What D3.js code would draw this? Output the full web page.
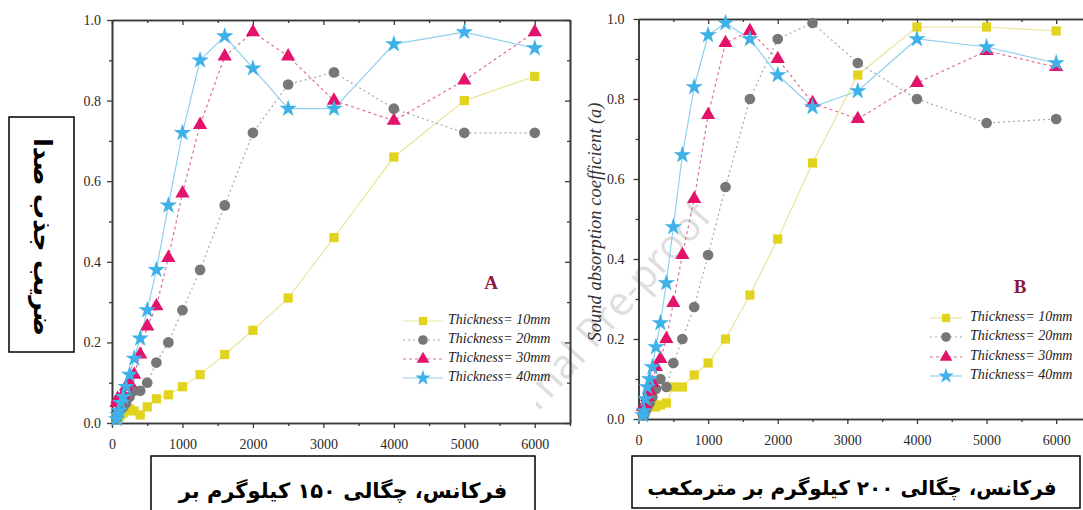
<!DOCTYPE html>
<html>
<head>
<meta charset="utf-8">
<script src="https://cdn.jsdelivr.net/npm/d3@7/dist/d3.min.js"></script>
<style>
  html, body { margin: 0; padding: 0; background: #fff; }
  svg { display: block; }
</style>
</head>
<body>
<script>
// ---------------- DATA ----------------
const freqs = [63, 80, 100, 125, 160, 200, 250, 315, 400, 500, 630, 800, 1000, 1250, 1600, 2000, 2500, 3150, 4000, 5000, 6000];
const seriesLabels = ["Thickness= 10mm", "Thickness= 20mm", "Thickness= 30mm", "Thickness= 40mm"];
const xMajorTicks = [0, 1000, 2000, 3000, 4000, 5000, 6000];
const xMinorTicks = [500, 1500, 2500, 3500, 4500, 5500, 6500];
const yMajorTicks = [0, 0.2, 0.4, 0.6, 0.8, 1.0];
const yMinorTicks = [0.1, 0.3, 0.5, 0.7, 0.9];

// Panel A (150 kg/m3)
const a10 = [0.01, 0.01, 0.015, 0.02, 0.025, 0.03, 0.035, 0.03, 0.02, 0.04, 0.06, 0.07, 0.09, 0.12, 0.17, 0.23, 0.31, 0.46, 0.66, 0.80, 0.86];
const a20 = [0.01, 0.02, 0.03, 0.04, 0.04, 0.05, 0.065, 0.08, 0.08, 0.10, 0.15, 0.20, 0.28, 0.38, 0.54, 0.72, 0.84, 0.87, 0.78, 0.72, 0.72];
const a30 = [0.05, 0.06, 0.05, 0.06, 0.07, 0.09, 0.10, 0.12, 0.17, 0.24, 0.29, 0.41, 0.57, 0.74, 0.91, 0.97, 0.91, 0.80, 0.75, 0.85, 0.97];
const a40 = [0.01, 0.02, 0.03, 0.05, 0.065, 0.09, 0.12, 0.16, 0.21, 0.28, 0.38, 0.54, 0.72, 0.90, 0.96, 0.88, 0.78, 0.78, 0.94, 0.97, 0.93];

// Panel B (200 kg/m3)
const b10 = [0.01, 0.015, 0.02, 0.03, 0.04, 0.04, 0.03, 0.035, 0.04, 0.08, 0.08, 0.11, 0.14, 0.20, 0.31, 0.45, 0.64, 0.86, 0.98, 0.98, 0.97];
const b20 = [0.01, 0.01, 0.02, 0.03, 0.04, 0.055, 0.075, 0.10, 0.08, 0.14, 0.20, 0.28, 0.41, 0.58, 0.80, 0.95, 0.99, 0.89, 0.80, 0.74, 0.75];
const b30 = [0.03, 0.03, 0.035, 0.055, 0.07, 0.09, 0.13, 0.15, 0.20, 0.29, 0.41, 0.55, 0.76, 0.94, 0.97, 0.90, 0.79, 0.75, 0.84, 0.92, 0.88];
const b40 = [0.01, 0.02, 0.05, 0.08, 0.10, 0.13, 0.18, 0.24, 0.34, 0.48, 0.66, 0.83, 0.96, 0.99, 0.95, 0.86, 0.78, 0.82, 0.95, 0.93, 0.89];

const yLabelFa = "ضریب جذب صدا";
const xLabelA = "فرکانس، چگالی ۱۵۰ کیلوگرم بر";
const xLabelB = "فرکانس، چگالی ۲۰۰ کیلوگرم بر مترمکعب";
const yLabelB = "Sound absorption coefficient (a)";
const watermark = "Journal Pre-proof";

// ---------------- STYLES ----------------
const styles = [
  { sym: d3.symbolSquare,   size: 85,  fill: "#e2d31e", line: "#ebe49a", dash: null,  lw: 1.2 },
  { sym: d3.symbolCircle,   size: 90,  fill: "#777777", line: "#a8a8a8", dash: "2,3", lw: 1.2 },
  { sym: d3.symbolTriangle, size: 88,  fill: "#e3136c", line: "#df6f98", dash: "3,3", lw: 1.2 },
  { sym: d3.symbolStar,     size: 95,  fill: "#3eb2e8", line: "#8fd0ef", dash: null,  lw: 1.2 }
];

const W = 1083, H = 510;
const svg = d3.select("body").append("svg").attr("width", W).attr("height", H)
  .style("font-family", "'Liberation Serif', 'DejaVu Serif', serif");

// watermark (clipped to right figure)
svg.append("clipPath").attr("id", "wmclip").append("rect")
  .attr("x", 536).attr("y", 0).attr("width", W).attr("height", 455);
svg.append("g").attr("clip-path", "url(#wmclip)")
  .append("text")
  .attr("transform", "translate(598,330) rotate(-48)")
  .attr("text-anchor", "middle")
  .attr("dominant-baseline", "middle")
  .style("font-family", "'Open Sans', 'DejaVu Sans', sans-serif")
  .style("font-size", "40px")
  .attr("fill", "#dedede")
  .text(watermark);

function panel(cfg) {
  const x = d3.scaleLinear().domain([0, 6500]).range([cfg.x0, cfg.x1]);
  const y = d3.scaleLinear().domain([0, 1]).range([cfg.y0, cfg.y1]);
  const g = svg.append("g");

  const axisStyle = sel => {
    sel.select(".domain").attr("stroke", "#3a3a3a").attr("stroke-width", 1.6);
    sel.selectAll(".tick line").attr("stroke", "#3a3a3a").attr("stroke-width", 1.3);
    sel.selectAll(".tick text").attr("fill", "#2a2a2a").style("font-size", "14px")
      .style("font-family", "'Liberation Serif', 'DejaVu Serif', serif");
  };

  // bottom
  g.append("g").attr("transform", `translate(0,${cfg.y0})`)
    .call(d3.axisBottom(x).tickValues(xMinorTicks).tickSize(3).tickSizeOuter(0).tickFormat(""))
    .call(axisStyle);
  g.append("g").attr("transform", `translate(0,${cfg.y0})`)
    .call(d3.axisBottom(x).tickValues(xMajorTicks).tickSize(5).tickSizeOuter(0).tickPadding(11).tickFormat(d3.format("d")))
    .call(axisStyle);
  // top (inward)
  g.append("g").attr("transform", `translate(0,${cfg.y1})`)
    .call(d3.axisBottom(x).tickValues(xMinorTicks).tickSize(3).tickSizeOuter(0).tickFormat(""))
    .call(axisStyle);
  g.append("g").attr("transform", `translate(0,${cfg.y1})`)
    .call(d3.axisBottom(x).tickValues(xMajorTicks).tickSize(5).tickSizeOuter(0).tickFormat(""))
    .call(axisStyle);
  // left
  g.append("g").attr("transform", `translate(${cfg.x0},0)`)
    .call(d3.axisLeft(y).tickValues(yMinorTicks).tickSize(3).tickSizeOuter(0).tickFormat(""))
    .call(axisStyle);
  g.append("g").attr("transform", `translate(${cfg.x0},0)`)
    .call(d3.axisLeft(y).tickValues(yMajorTicks).tickSize(5).tickSizeOuter(0).tickPadding(cfg.yPad).tickFormat(d3.format(".1f")))
    .call(axisStyle);
  // right (inward)
  g.append("g").attr("transform", `translate(${cfg.x1},0)`)
    .call(d3.axisLeft(y).tickValues(yMinorTicks).tickSize(3).tickSizeOuter(0).tickFormat(""))
    .call(axisStyle);
  g.append("g").attr("transform", `translate(${cfg.x1},0)`)
    .call(d3.axisLeft(y).tickValues(yMajorTicks).tickSize(5).tickSizeOuter(0).tickFormat(""))
    .call(axisStyle);

  const line = d3.line().x((d, i) => x(freqs[i])).y(d => y(d));

  cfg.series.forEach((vals, si) => {
    const st = styles[si];
    g.append("path").datum(vals).attr("d", line)
      .attr("fill", "none").attr("stroke", st.line).attr("stroke-width", st.lw)
      .attr("stroke-dasharray", st.dash);
  });
  cfg.series.forEach((vals, si) => {
    const st = styles[si];
    g.append("g").selectAll("path").data(vals).join("path")
      .attr("transform", (d, i) => `translate(${x(freqs[i])},${y(d)})`)
      .attr("d", d3.symbol().type(st.sym).size(st.size))
      .attr("fill", st.fill);
  });

  // panel letter
  g.append("text").attr("x", cfg.letterX).attr("y", cfg.letterY)
    .attr("text-anchor", "middle").attr("dominant-baseline", "middle")
    .style("font-size", "19px").style("font-weight", "bold")
    .attr("fill", "#8a1a40").text(cfg.letter);

  // legend
  seriesLabels.forEach((lab, si) => {
    const st = styles[si];
    const ly = cfg.legY[si];
    g.append("line").attr("x1", cfg.legL1).attr("x2", cfg.legL2).attr("y1", ly).attr("y2", ly)
      .attr("stroke", st.line).attr("stroke-width", st.lw).attr("stroke-dasharray", st.dash);
    g.append("path").attr("transform", `translate(${cfg.legSym},${ly})`)
      .attr("d", d3.symbol().type(st.sym).size(st.size * 0.8)).attr("fill", st.fill);
    g.append("text").attr("x", cfg.legText).attr("y", ly)
      .attr("dominant-baseline", "middle")
      .style("font-size", "14px").style("font-style", "italic")
      .attr("fill", "#222").text(lab);
  });
}

panel({
  x0: 112, x1: 570, y0: 423, y1: 20, yPad: 6,
  series: [a10, a20, a30, a40],
  letter: "A", letterX: 491, letterY: 285,
  legY: [321, 340, 359, 378], legL1: 403, legL2: 443, legSym: 423, legText: 448
});
panel({
  x0: 638.5, x1: 1091, y0: 419, y1: 19, yPad: 9,
  series: [b10, b20, b30, b40],
  letter: "B", letterX: 1020, letterY: 289,
  legY: [318, 337, 357, 376], legL1: 930, legL2: 962, legSym: 946, legText: 970
});

// right y label
svg.append("text")
  .attr("transform", "translate(601,222) rotate(-90)")
  .attr("text-anchor", "middle")
  .style("font-size", "18.5px").style("font-style", "italic")
  .attr("fill", "#333").text(yLabelB);

// Persian label boxes
const faFont = "'DejaVu Sans', 'Noto Sans', sans-serif";
svg.append("rect").attr("x", 9).attr("y", 117).attr("width", 65).attr("height", 235)
  .attr("fill", "#fff").attr("stroke", "#000").attr("stroke-width", 1.5);
svg.append("text")
  .attr("transform", "translate(41,237) rotate(90)")
  .attr("text-anchor", "middle").attr("dominant-baseline", "middle")
  .attr("direction", "rtl")
  .style("font-family", faFont).style("font-size", "25px").style("font-weight", "bold")
  .attr("fill", "#000").text(yLabelFa);

svg.append("rect").attr("x", 151).attr("y", 456).attr("width", 384).attr("height", 60)
  .attr("fill", "#fff").attr("stroke", "#000").attr("stroke-width", 1.5);
svg.append("text").attr("x", 343).attr("y", 492)
  .attr("text-anchor", "middle").attr("dominant-baseline", "middle")
  .attr("direction", "rtl")
  .style("font-family", faFont).style("font-size", "21px").style("font-weight", "bold")
  .attr("fill", "#000").text(xLabelA);

svg.append("rect").attr("x", 632).attr("y", 456).attr("width", 448).attr("height", 52)
  .attr("fill", "#fff").attr("stroke", "#000").attr("stroke-width", 1.5);
svg.append("text").attr("x", 852).attr("y", 489)
  .attr("text-anchor", "middle").attr("dominant-baseline", "middle")
  .attr("direction", "rtl")
  .style("font-family", faFont).style("font-size", "20px").style("font-weight", "bold")
  .attr("fill", "#000").text(xLabelB);
</script>
</body>
</html>
